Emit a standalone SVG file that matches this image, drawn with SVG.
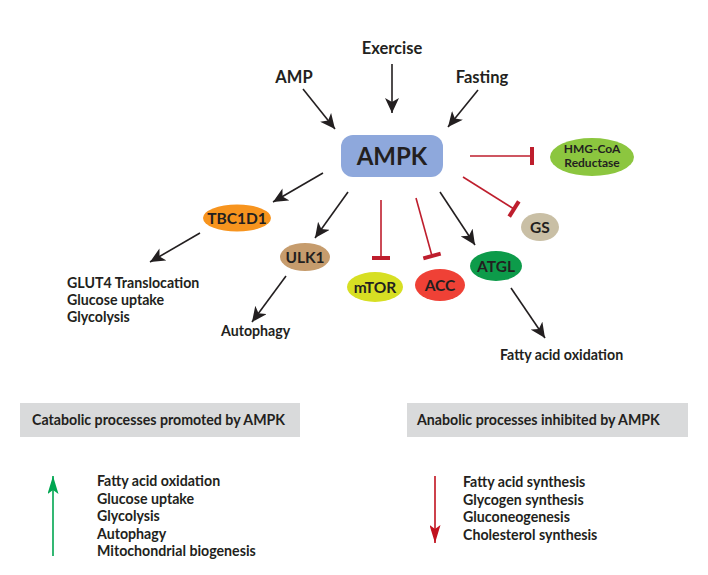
<svg xmlns="http://www.w3.org/2000/svg" width="708" height="575" viewBox="0 0 708 575">
<style>
text{font-family:Lato,"Liberation Sans",sans-serif;font-weight:bold;fill:#231f20}
.lbl{font-size:14.2px}
.in{font-size:16.5px;text-anchor:middle}
.nd{font-size:15.5px;text-anchor:middle}
.act{stroke:#231f20;stroke-width:1.6;fill:none;marker-end:url(#ah)}
.inh{stroke:#be1e2d;stroke-width:1.6;fill:none;marker-end:url(#tb)}
</style>
<defs>
<marker id="ah" markerUnits="userSpaceOnUse" markerWidth="16" markerHeight="14" refX="15" refY="7" orient="auto" viewBox="0 0 16 14">
<path d="M0,0 L15,7 L0,14 L4,7 z" fill="#231f20"/>
</marker>
<marker id="tb" markerUnits="userSpaceOnUse" markerWidth="6" markerHeight="20" refX="3" refY="10" orient="auto" viewBox="0 0 6 20">
<rect x="1" y="1" width="4" height="18" fill="#be1e2d"/>
</marker>
<marker id="ag" markerUnits="userSpaceOnUse" markerWidth="19" markerHeight="11" refX="18" refY="5.5" orient="auto" viewBox="0 0 19 11">
<path d="M0,0 L18,5.5 L0,11 L4,5.5 z" fill="#00a651"/>
</marker>
<marker id="ar" markerUnits="userSpaceOnUse" markerWidth="19" markerHeight="11" refX="18" refY="5.5" orient="auto" viewBox="0 0 19 11">
<path d="M0,0 L18,5.5 L0,11 L4,5.5 z" fill="#c1121f"/>
</marker>
</defs>
<rect width="708" height="575" fill="#ffffff"/>

<g id="inputs">
<text class="in" x="294" y="83">AMP</text>
<text class="in" x="392" y="54">Exercise</text>
<text class="in" x="482" y="83">Fasting</text>
</g>

<g id="connectors">
<line class="act" x1="303" y1="89" x2="335" y2="129"/>
<line class="act" x1="392" y1="64" x2="392" y2="113"/>
<line class="act" x1="478" y1="90" x2="448" y2="127"/>
<line class="inh" x1="470" y1="156" x2="532" y2="156"/>
<line class="inh" x1="463" y1="177" x2="514" y2="209"/>
<line class="act" x1="323" y1="173" x2="273" y2="202"/>
<line class="act" x1="348" y1="192" x2="315" y2="238"/>
<line class="inh" x1="381" y1="200" x2="381" y2="258"/>
<line class="inh" x1="416" y1="198" x2="432" y2="256"/>
<line class="act" x1="440" y1="192" x2="475" y2="245"/>
<line class="act" x1="200" y1="233" x2="150" y2="262"/>
<line class="act" x1="286" y1="276" x2="252" y2="322"/>
<line class="act" x1="511" y1="288" x2="545" y2="338"/>
</g>

<g id="ampk">
<rect x="341" y="135" width="102" height="42" rx="12" fill="#8ea8dc"/>
<text x="392" y="165" text-anchor="middle" font-size="24">AMPK</text>
</g>
<g id="hmgcoa">
<ellipse cx="592" cy="157" rx="42" ry="19" fill="#8cc63f"/>
<text x="592" y="153" text-anchor="middle" font-size="12">HMG-CoA</text>
<text x="592" y="167" text-anchor="middle" font-size="12">Reductase</text>
</g>
<g id="gs">
<ellipse cx="540" cy="227" rx="19" ry="14" fill="#c9bfa5"/>
<text class="nd" x="540" y="232.5">GS</text>
</g>
<g id="tbc1d1">
<ellipse cx="237" cy="218" rx="34" ry="13.5" fill="#f7941e"/>
<text class="nd" x="237" y="223.5" font-size="15">TBC1D1</text>
</g>
<g id="ulk1">
<ellipse cx="305" cy="257" rx="25" ry="14" fill="#c69c6d"/>
<text class="nd" x="305" y="262.5">ULK1</text>
</g>
<g id="mtor">
<ellipse cx="375" cy="287" rx="28" ry="15" fill="#d7df23"/>
<text class="nd" x="375" y="292.5">mTOR</text>
</g>
<g id="acc">
<ellipse cx="440" cy="285" rx="25" ry="16" fill="#ef4136"/>
<text class="nd" x="440" y="290.5">ACC</text>
</g>
<g id="atgl">
<ellipse cx="496" cy="266" rx="26" ry="15" fill="#0d9b4a"/>
<text class="nd" x="496" y="271.5">ATGL</text>
</g>

<g id="outputs">
<text class="lbl" x="67" y="288">GLUT4 Translocation</text>
<text class="lbl" x="67" y="305">Glucose uptake</text>
<text class="lbl" x="67" y="322">Glycolysis</text>
<text class="lbl" x="221" y="336">Autophagy</text>
<text class="lbl" x="500" y="360">Fatty acid oxidation</text>
</g>

<g id="catabolic">
<rect x="20" y="403" width="280" height="34" fill="#d9dadb"/>
<text class="lbl" x="32" y="425">Catabolic processes promoted by AMPK</text>
<line x1="53" y1="556" x2="53" y2="476" stroke="#00a651" stroke-width="1.6" marker-end="url(#ag)"/>
<text class="lbl" x="97" y="486">Fatty acid oxidation</text>
<text class="lbl" x="97" y="503.5">Glucose uptake</text>
<text class="lbl" x="97" y="521">Glycolysis</text>
<text class="lbl" x="97" y="538.5">Autophagy</text>
<text class="lbl" x="97" y="556">Mitochondrial biogenesis</text>
</g>

<g id="anabolic">
<rect x="407" y="403" width="281" height="34" fill="#d9dadb"/>
<text class="lbl" x="417" y="425">Anabolic processes inhibited by AMPK</text>
<line x1="435" y1="476" x2="435" y2="543" stroke="#c1121f" stroke-width="1.6" marker-end="url(#ar)"/>
<text class="lbl" x="463" y="487">Fatty acid synthesis</text>
<text class="lbl" x="463" y="504.5">Glycogen synthesis</text>
<text class="lbl" x="463" y="522">Gluconeogenesis</text>
<text class="lbl" x="463" y="539.5">Cholesterol synthesis</text>
</g>
</svg>
